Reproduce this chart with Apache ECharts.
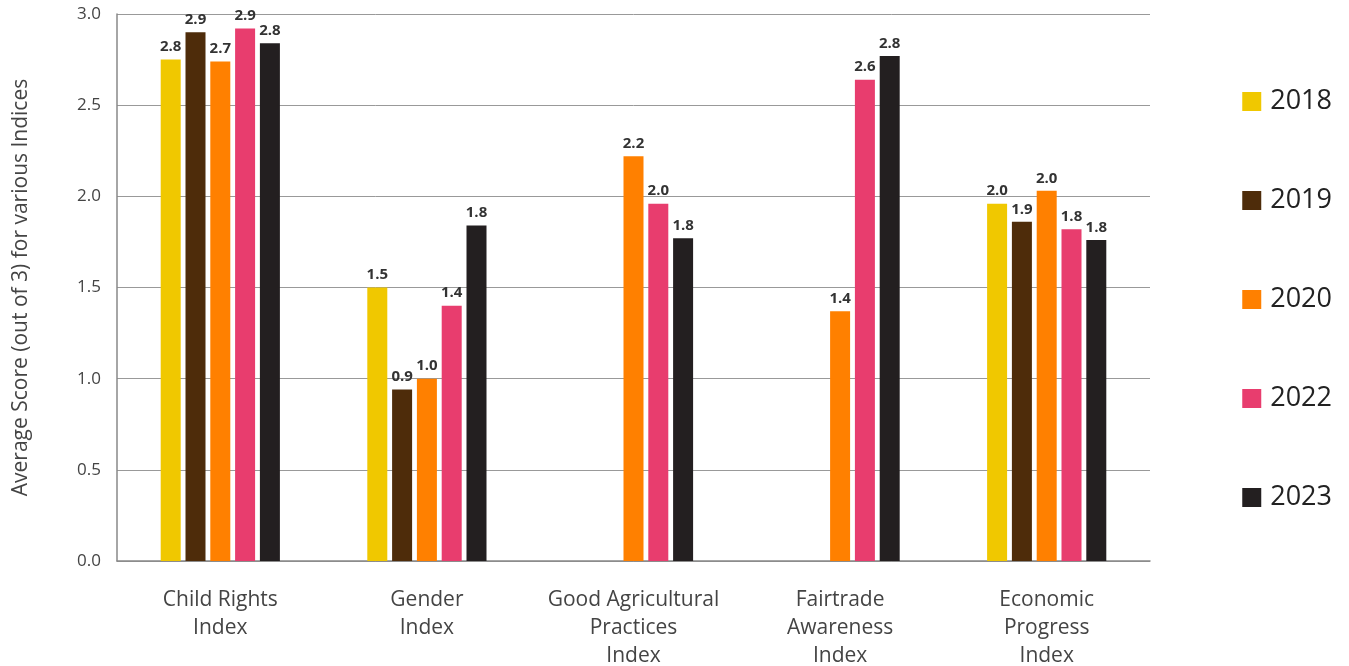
<!DOCTYPE html>
<html>
<head>
<meta charset="utf-8">
<script src="https://cdn.jsdelivr.net/npm/echarts@6/dist/echarts.min.js"></script>
<style>html,body{margin:0;padding:0;background:#fff}#c{width:1349px;height:666px}</style>
</head>
<body>
<div id="c"></div>
<script>
const categories = ['Child Rights\nIndex', 'Gender\nIndex', 'Good Agricultural\nPractices\nIndex', 'Fairtrade\nAwareness\nIndex', 'Economic\nProgress\nIndex'];
const years = ['2018', '2019', '2020', '2022', '2023'];
const v2018 = [2.75, 1.50, null, null, 1.96];
const v2019 = [2.90, 0.94, null, null, 1.86];
const v2020 = [2.74, 1.00, 2.22, 1.37, 2.03];
const v2022 = [2.92, 1.40, 1.96, 2.64, 1.82];
const v2023 = [2.84, 1.84, 1.77, 2.77, 1.76];
const yTicks = [0, 0.5, 1, 1.5, 2, 2.5, 3];
const colors = ['#F0C800', '#4E2C0A', '#FF8000', '#E83D6E', '#231F20'];
const seriesValues = [v2018, v2019, v2020, v2022, v2023];
const FONT = '"Open Sans", sans-serif';

const chart = echarts.init(document.getElementById('c'));
chart.setOption({
  animation: false,
  color: colors,
  grid: { left: 117, right: 199, top: 14, bottom: 105, containLabel: false, outerBoundsMode: 'none' },
  legend: {
    orient: 'vertical',
    right: 12,
    top: 83,
    itemWidth: 19,
    itemHeight: 19,
    itemGap: 72,
    icon: 'rect',
    textStyle: { fontSize: 27, color: '#222', fontFamily: FONT, padding: [0, 0, 0, 4] },
    data: years
  },
  xAxis: {
    type: 'category',
    data: categories,
    axisLine: { show: true, lineStyle: { color: '#888', width: 1.5 } },
    axisTick: { show: false },
    axisLabel: { fontSize: 21, lineHeight: 28, color: '#444', fontFamily: FONT, margin: 25, interval: 0 }
  },
  yAxis: {
    type: 'value',
    min: yTicks[0], max: yTicks[yTicks.length - 1], interval: 0.5,
    name: 'Average Score (out of 3) for various Indices',
    nameLocation: 'middle',
    nameGap: 85,
    nameTextStyle: { fontSize: 21, color: '#444', fontFamily: FONT },
    axisLine: { show: true, lineStyle: { color: '#888', width: 1.5 } },
    axisTick: { show: false },
    splitLine: { show: true, lineStyle: { color: '#999', width: 1 } },
    axisLabel: { fontSize: 17, color: '#444', fontFamily: FONT, margin: 16, formatter: v => v.toFixed(1) }
  },
  series: years.map((y, i) => ({
    name: y,
    type: 'bar',
    data: seriesValues[i],
    barWidth: 20,
    barGap: '24%',
    itemStyle: { color: colors[i] },
    label: {
      show: true,
      position: 'top',
      distance: 5,
      fontSize: 15,
      fontWeight: 'bold',
      color: '#333',
      fontFamily: FONT,
      formatter: p => p.value == null ? '' : p.value.toFixed(1)
    }
  }))
});
</script>
</body>
</html>
